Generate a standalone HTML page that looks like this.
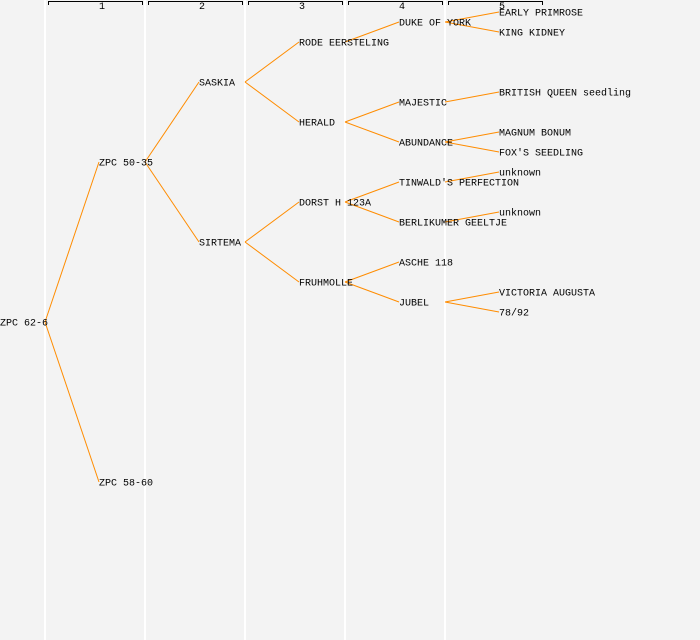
<!DOCTYPE html>
<html><head><style>
body{margin:0;background:#f3f3f3}
svg{display:block}
text{font-family:"Liberation Mono","DejaVu Sans Mono",monospace;font-size:10px;fill:#000}
</style></head><body>
<svg width="700" height="640" xmlns="http://www.w3.org/2000/svg">
<rect width="700" height="640" fill="#f3f3f3"/>
<g stroke="#fff" stroke-width="2">
<line x1="45" y1="0" x2="45" y2="640"/><line x1="145" y1="0" x2="145" y2="640"/><line x1="245" y1="0" x2="245" y2="640"/><line x1="345" y1="0" x2="345" y2="640"/><line x1="445" y1="0" x2="445" y2="640"/>
</g>
<g stroke="#000" stroke-width="1" fill="none">
<path d="M48.5 5V1.5H142.5V5"/><path d="M148.5 5V1.5H242.5V5"/><path d="M248.5 5V1.5H342.5V5"/><path d="M348.5 5V1.5H442.5V5"/><path d="M448.5 5V1.5H542.5V5"/>
</g>
<g style="font-size:8px" text-anchor="middle">
<text x="102" y="9">1</text><text x="202" y="9">2</text><text x="302" y="9">3</text><text x="402" y="9">4</text><text x="502" y="9">5</text>
</g>
<g stroke="#ff8c00" stroke-width="1" fill="none">
<line x1="45" y1="322" x2="99" y2="162"/><line x1="45" y1="322" x2="99" y2="482"/>
<line x1="145" y1="162" x2="199" y2="82"/><line x1="145" y1="162" x2="199" y2="242"/>
<line x1="245" y1="82" x2="299" y2="42"/><line x1="245" y1="82" x2="299" y2="122"/>
<line x1="245" y1="242" x2="299" y2="202"/><line x1="245" y1="242" x2="299" y2="282"/>
<line x1="345" y1="42" x2="399" y2="22"/>
<line x1="345" y1="122" x2="399" y2="102"/><line x1="345" y1="122" x2="399" y2="142"/>
<line x1="345" y1="202" x2="399" y2="182"/><line x1="345" y1="202" x2="399" y2="222"/>
<line x1="345" y1="282" x2="399" y2="262"/><line x1="345" y1="282" x2="399" y2="302"/>
<line x1="445" y1="22" x2="499" y2="12"/><line x1="445" y1="22" x2="499" y2="32"/>
<line x1="445" y1="102" x2="499" y2="92"/>
<line x1="445" y1="142" x2="499" y2="132"/><line x1="445" y1="142" x2="499" y2="152"/>
<line x1="445" y1="182" x2="499" y2="172"/>
<line x1="445" y1="222" x2="499" y2="212"/>
<line x1="445" y1="302" x2="499" y2="292"/><line x1="445" y1="302" x2="499" y2="312"/>
</g>
<g dominant-baseline="central" transform="translate(0,2)">
<text x="0" y="322">ZPC 62-6</text>
<text x="99" y="162">ZPC 50-35</text><text x="99" y="482">ZPC 58-60</text>
<text x="199" y="82">SASKIA</text><text x="199" y="242">SIRTEMA</text>
<text x="299" y="42">RODE EERSTELING</text><text x="299" y="122">HERALD</text>
<text x="299" y="202">DORST H 123A</text><text x="299" y="282">FRUHMOLLE</text>
<text x="399" y="22">DUKE OF YORK</text><text x="399" y="102">MAJESTIC</text><text x="399" y="142">ABUNDANCE</text>
<text x="399" y="182">TINWALD'S PERFECTION</text><text x="399" y="222">BERLIKUMER GEELTJE</text>
<text x="399" y="262">ASCHE 118</text><text x="399" y="302">JUBEL</text>
<text x="499" y="12">EARLY PRIMROSE</text><text x="499" y="32">KING KIDNEY</text>
<text x="499" y="92">BRITISH QUEEN seedling</text>
<text x="499" y="132">MAGNUM BONUM</text><text x="499" y="152">FOX'S SEEDLING</text>
<text x="499" y="172">unknown</text><text x="499" y="212">unknown</text>
<text x="499" y="292">VICTORIA AUGUSTA</text><text x="499" y="312">78/92</text>
</g>
</svg>
</body></html>
